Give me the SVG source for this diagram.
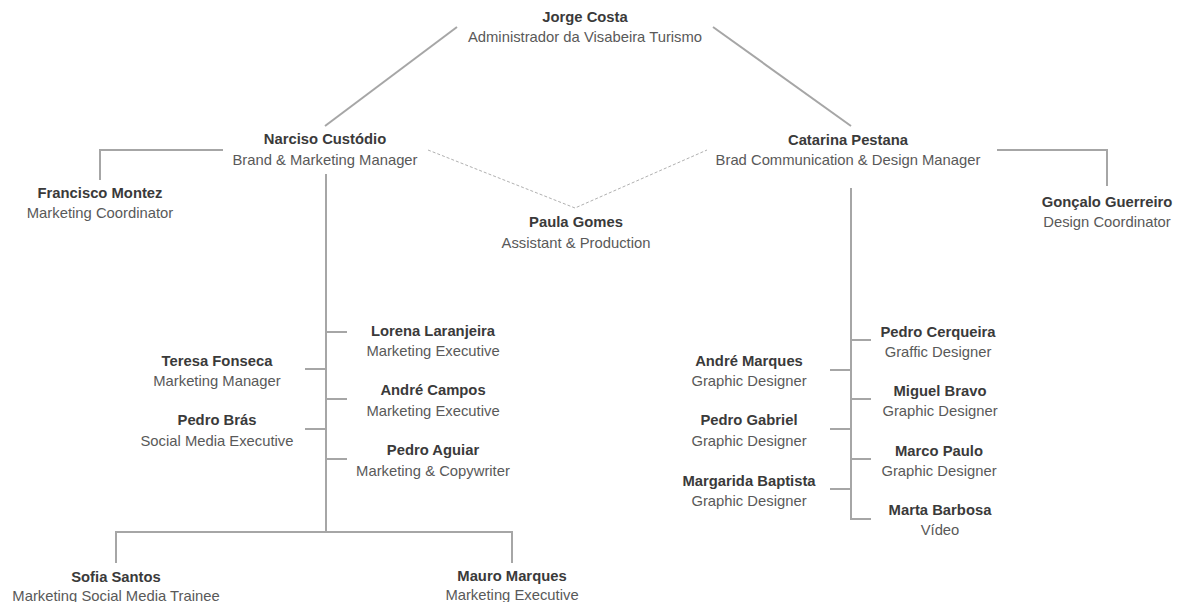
<svg xmlns="http://www.w3.org/2000/svg" width="1179" height="602" viewBox="0 0 1179 602">
<style>
.n{font-family:"Liberation Sans",Arial,sans-serif;font-size:14.8px;font-weight:bold;fill:#3a3a3a;text-anchor:middle}
.t{font-family:"Liberation Sans",Arial,sans-serif;font-size:14.8px;fill:#595959;text-anchor:middle}
.c{fill:none;stroke:#a6a6a6;stroke-width:2}
.d{fill:none;stroke:#b0b0b0;stroke-width:1;stroke-dasharray:3 2}
</style>
<rect width="1179" height="602" fill="#fff"/>
<g id="connectors">
<path class="c" d="M457 27 L325 126"/>
<path class="c" d="M713 27 L851 126"/>
<path class="c" d="M223 150 H100 V180"/>
<path class="c" d="M997 150 H1107 V186"/>
<path class="d" d="M428 150 L575 208 L707 150"/>
<path class="c" d="M326 174 V532"/>
<path class="c" d="M326 332 H347 M326 399 H347 M326 459 H347"/>
<path class="c" d="M305 369 H326 M305 429 H326"/>
<path class="c" d="M116 563 V532 H512 V563"/>
<path class="c" d="M851 188 V519 H871"/>
<path class="c" d="M851 340 H871 M851 399 H871 M851 459 H871"/>
<path class="c" d="M830 370 H851 M830 429 H851 M830 489 H851"/>
</g>
<g id="jorge"><text class="n" x="585" y="22">Jorge Costa</text><text class="t" x="585" y="42">Administrador da Visabeira Turismo</text></g>
<g id="narciso"><text class="n" x="325" y="144">Narciso Custódio</text><text class="t" x="325" y="165">Brand &amp; Marketing Manager</text></g>
<g id="catarina"><text class="n" x="848" y="145">Catarina Pestana</text><text class="t" x="848" y="165">Brad Communication &amp; Design Manager</text></g>
<g id="francisco"><text class="n" x="100" y="198">Francisco Montez</text><text class="t" x="100" y="218">Marketing Coordinator</text></g>
<g id="paula"><text class="n" x="576" y="227">Paula Gomes</text><text class="t" x="576" y="248">Assistant &amp; Production</text></g>
<g id="goncalo"><text class="n" x="1107" y="207">Gonçalo Guerreiro</text><text class="t" x="1107" y="227">Design Coordinator</text></g>
<g id="lorena"><text class="n" x="433" y="336">Lorena Laranjeira</text><text class="t" x="433" y="356">Marketing Executive</text></g>
<g id="andre-campos"><text class="n" x="433" y="395">André Campos</text><text class="t" x="433" y="416">Marketing Executive</text></g>
<g id="pedro-aguiar"><text class="n" x="433" y="455">Pedro Aguiar</text><text class="t" x="433" y="476">Marketing &amp; Copywriter</text></g>
<g id="teresa"><text class="n" x="217" y="366">Teresa Fonseca</text><text class="t" x="217" y="386">Marketing Manager</text></g>
<g id="pedro-bras"><text class="n" x="217" y="425">Pedro Brás</text><text class="t" x="217" y="446">Social Media Executive</text></g>
<g id="sofia"><text class="n" x="116" y="582">Sofia Santos</text><text class="t" x="116" y="601">Marketing Social Media Trainee</text></g>
<g id="mauro"><text class="n" x="512" y="581">Mauro Marques</text><text class="t" x="512" y="600">Marketing Executive</text></g>
<g id="pedro-cerqueira"><text class="n" x="938" y="337">Pedro Cerqueira</text><text class="t" x="938" y="357">Graffic Designer</text></g>
<g id="miguel"><text class="n" x="940" y="396">Miguel Bravo</text><text class="t" x="940" y="416">Graphic Designer</text></g>
<g id="marco"><text class="n" x="939" y="456">Marco Paulo</text><text class="t" x="939" y="476">Graphic Designer</text></g>
<g id="marta"><text class="n" x="940" y="515">Marta Barbosa</text><text class="t" x="940" y="535">Vídeo</text></g>
<g id="andre-marques"><text class="n" x="749" y="366">André Marques</text><text class="t" x="749" y="386">Graphic Designer</text></g>
<g id="pedro-gabriel"><text class="n" x="749" y="425">Pedro Gabriel</text><text class="t" x="749" y="446">Graphic Designer</text></g>
<g id="margarida"><text class="n" x="749" y="486">Margarida Baptista</text><text class="t" x="749" y="506">Graphic Designer</text></g>
</svg>
